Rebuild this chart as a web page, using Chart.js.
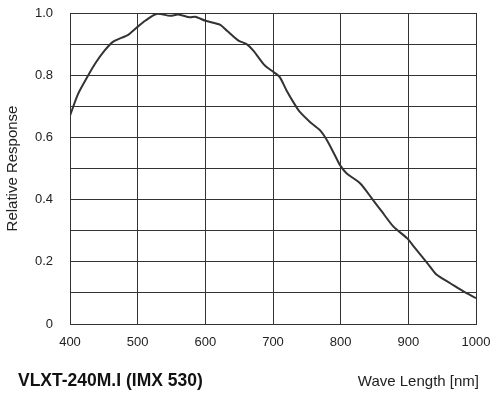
<!DOCTYPE html>
<html>
<head>
<meta charset="utf-8">
<script src="https://cdn.jsdelivr.net/npm/chart.js@4"></script>
<style>
  body { margin: 0; background: #fff; }
  canvas { display: block; }
</style>
</head>
<body>
<canvas id="responseChart" width="491" height="399"></canvas>
<script>
// Spectral response curve
const wavelengths = [400, 412, 427, 437, 451, 464, 486, 499, 511, 528, 548, 560, 577, 585, 600,
    622, 632, 649, 661, 671, 688, 701, 710, 720, 733, 740, 755, 770, 780, 792, 799,
    809, 829, 846, 861, 878, 898, 910, 928, 942, 962, 982, 1000];
const response = [0.67, 0.74, 0.80, 0.837, 0.879, 0.908, 0.93, 0.954, 0.975, 0.997, 0.991, 0.995, 0.986, 0.988, 0.975,
    0.962, 0.943, 0.911, 0.90, 0.879, 0.831, 0.81, 0.794, 0.751, 0.703, 0.681, 0.649, 0.622, 0.59, 0.54, 0.511,
    0.484, 0.452, 0.404, 0.361, 0.313, 0.276, 0.244, 0.196, 0.158, 0.131, 0.104, 0.083];
const modelName = 'VLXT-240M.I (IMX 530)';
const xTitle = 'Wave Length [nm]';
const yTitle = 'Relative Response';

const points = wavelengths.map((w, i) => ({ x: w, y: response[i] }));
const FONT = "'Liberation Sans', Arial, sans-serif";

// bottom captions (model name left, axis name right)
const captions = {
    id: 'captions',
    afterDraw(chart) {
        const c = chart.ctx;
        c.save();
        c.textBaseline = 'middle';
        c.fillStyle = '#111';
        c.font = 'bold 17.5px ' + FONT;
        c.textAlign = 'left';
        c.fillText(modelName, 18, 381);
        c.font = '15px ' + FONT;
        c.fillStyle = '#222';
        c.textAlign = 'right';
        c.fillText(xTitle, 479, 382);
        c.restore();
    }
};

const ctx = document.getElementById('responseChart').getContext('2d');
const responseChart = new Chart(ctx, {
    type: 'line',
    data: {
        datasets: [{
            data: points,
            borderColor: '#333',
            borderWidth: 2,
            pointRadius: 0,
            tension: 0.25,
            fill: false
        }]
    },
    options: {
        responsive: false,
        animation: false,
        layout: { padding: 0 },
        plugins: {
            legend: { display: false },
            tooltip: { enabled: false }
        },
        scales: {
            x: {
                type: 'linear',
                min: 400,
                max: 1000,
                border: { color: '#333', width: 1 },
                grid: { color: '#333', lineWidth: 1, drawTicks: false },
                ticks: {
                    stepSize: 100,
                    padding: 11,
                    color: '#222',
                    font: { family: FONT, size: 13 },
                    maxRotation: 0,
                    callback: v => String(v)
                },
                afterFit(scale) {
                    scale.height = 75;
                    scale.paddingLeft = 0;
                    scale.paddingRight = 15;
                }
            },
            y: {
                min: 0,
                max: 1,
                border: { color: '#333', width: 1 },
                grid: { color: '#333', lineWidth: 1, drawTicks: false },
                ticks: {
                    stepSize: 0.1,
                    autoSkip: false,
                    padding: 17,
                    color: '#222',
                    font: { family: FONT, size: 13 },
                    callback: function(v) {
                        const k = Math.round(v * 10);
                        if (k === 0) return '0';
                        return k % 2 === 0 ? (k / 10).toFixed(1) : '';
                    }
                },
                title: {
                    display: true,
                    text: yTitle,
                    color: '#222',
                    font: { family: FONT, size: 15 },
                    padding: { top: 4, bottom: 0 }
                },
                afterFit(scale) {
                    scale.width = 70;
                    scale.paddingTop = 13;
                    scale.paddingBottom = 0;
                }
            }
        }
    },
    plugins: [captions]
});
</script>
</body>
</html>
